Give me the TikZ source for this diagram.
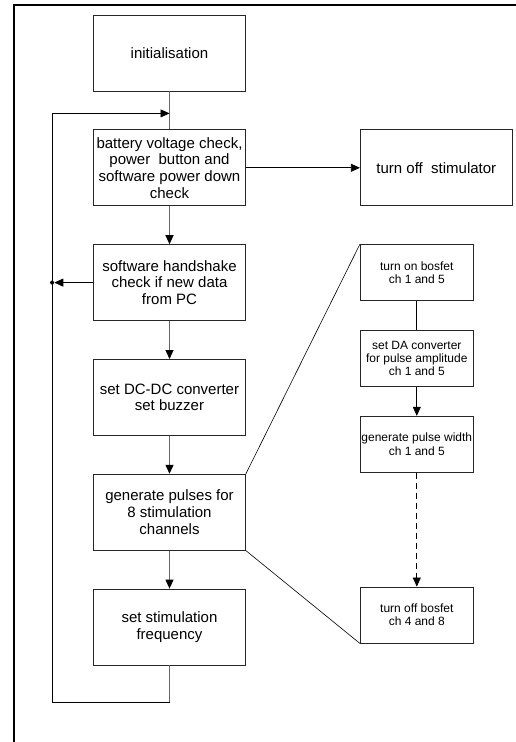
\documentclass[tikz,border=0pt]{standalone}
\usepackage{fontspec}
\setmainfont{Liberation Sans}
\usetikzlibrary{arrows.meta,positioning}

\begin{document}
\begin{tikzpicture}[
  x=1pt, y=1pt,
  node distance=38pt,
  box/.style={rectangle, draw=black!85, line width=0.8pt, minimum width=152pt,
              minimum height=76pt, inner sep=2pt, align=center,
              font=\fontsize{15}{16.7}\selectfont},
  smallbox/.style={rectangle, draw=black!85, line width=0.8pt, minimum width=113pt,
              minimum height=56pt, inner sep=1pt, align=center,
              font=\fontsize{12}{13.3}\selectfont},
  arr/.style={-{Triangle[length=9pt,width=8pt,color=black]}, line width=1.2pt, draw=black!60},
  flow/.style={line width=1.2pt, draw=black!60},
  thinarr/.style={-{Triangle[length=9pt,width=8pt]}, line width=0.7pt},
  dot/.style={circle, fill=black, inner sep=0pt, minimum size=4pt}
]
\useasboundingbox (0,0) rectangle (516,-742);
\draw[line width=2pt] (14,-742) -- (14,-5) -- (516,-5);

\node[box] (init) at (169.5,-53) {initialisation};
\node[box, below=of init] (batt) {battery voltage check,\\power~~button and\\software power down\\check};
\node[box, below=of batt] (hand) {software handshake\\check if new data\\from PC};
\node[box, below=of hand] (dcdc) {set DC-DC converter\\set buzzer};
\node[box, below=of dcdc] (pulse) {generate pulses for\\8 stimulation\\channels};
\node[box, below=of pulse] (freq) {set stimulation\\frequency};

\node[box, right=114pt of batt] (stim) {turn off~~stimulator};

\node[smallbox, anchor=north west] (on) at ([xshift=114pt]hand.north east) {turn on bosfet\\ch 1 and 5};
\node[smallbox, below=29pt of on] (da) {set DA converter\\for pulse amplitude\\ch 1 and 5};
\node[smallbox, below=29pt of da] (gen) {generate pulse width\\ch 1 and 5};
\node[smallbox, below=114pt of gen] (off) {turn off bosfet\\ch 4 and 8};

\coordinate (looptop) at ([yshift=16pt]batt.north);
\coordinate (loopbot) at ([yshift=-37pt]freq.south);
\coordinate (loopx) at ([xshift=-41pt]hand.west);
\node[dot] (join) at (loopx) {};

\draw[flow] (init) -- (batt);
\draw[arr] (batt) -- (hand);
\draw[arr] (hand) -- (dcdc);
\draw[arr] (dcdc) -- (pulse);
\draw[arr] (pulse) -- (freq);
\draw[flow] (freq) -- (loopbot);
\draw[thinarr] (loopbot) -| (join.center) |- (looptop);
\draw[thinarr] (hand) -- (join);
\draw[thinarr] (batt) -- (stim);

\draw[line width=0.6pt] (pulse.north east) -- (on.north west);
\draw[line width=0.6pt] (pulse.south east) -- (off.south west);
\draw[line width=0.7pt] (on) -- (da);
\draw[thinarr] (da) -- (gen);
\draw[thinarr, dash pattern=on 6pt off 4pt] (gen) -- (off);
\end{tikzpicture}
\end{document}
